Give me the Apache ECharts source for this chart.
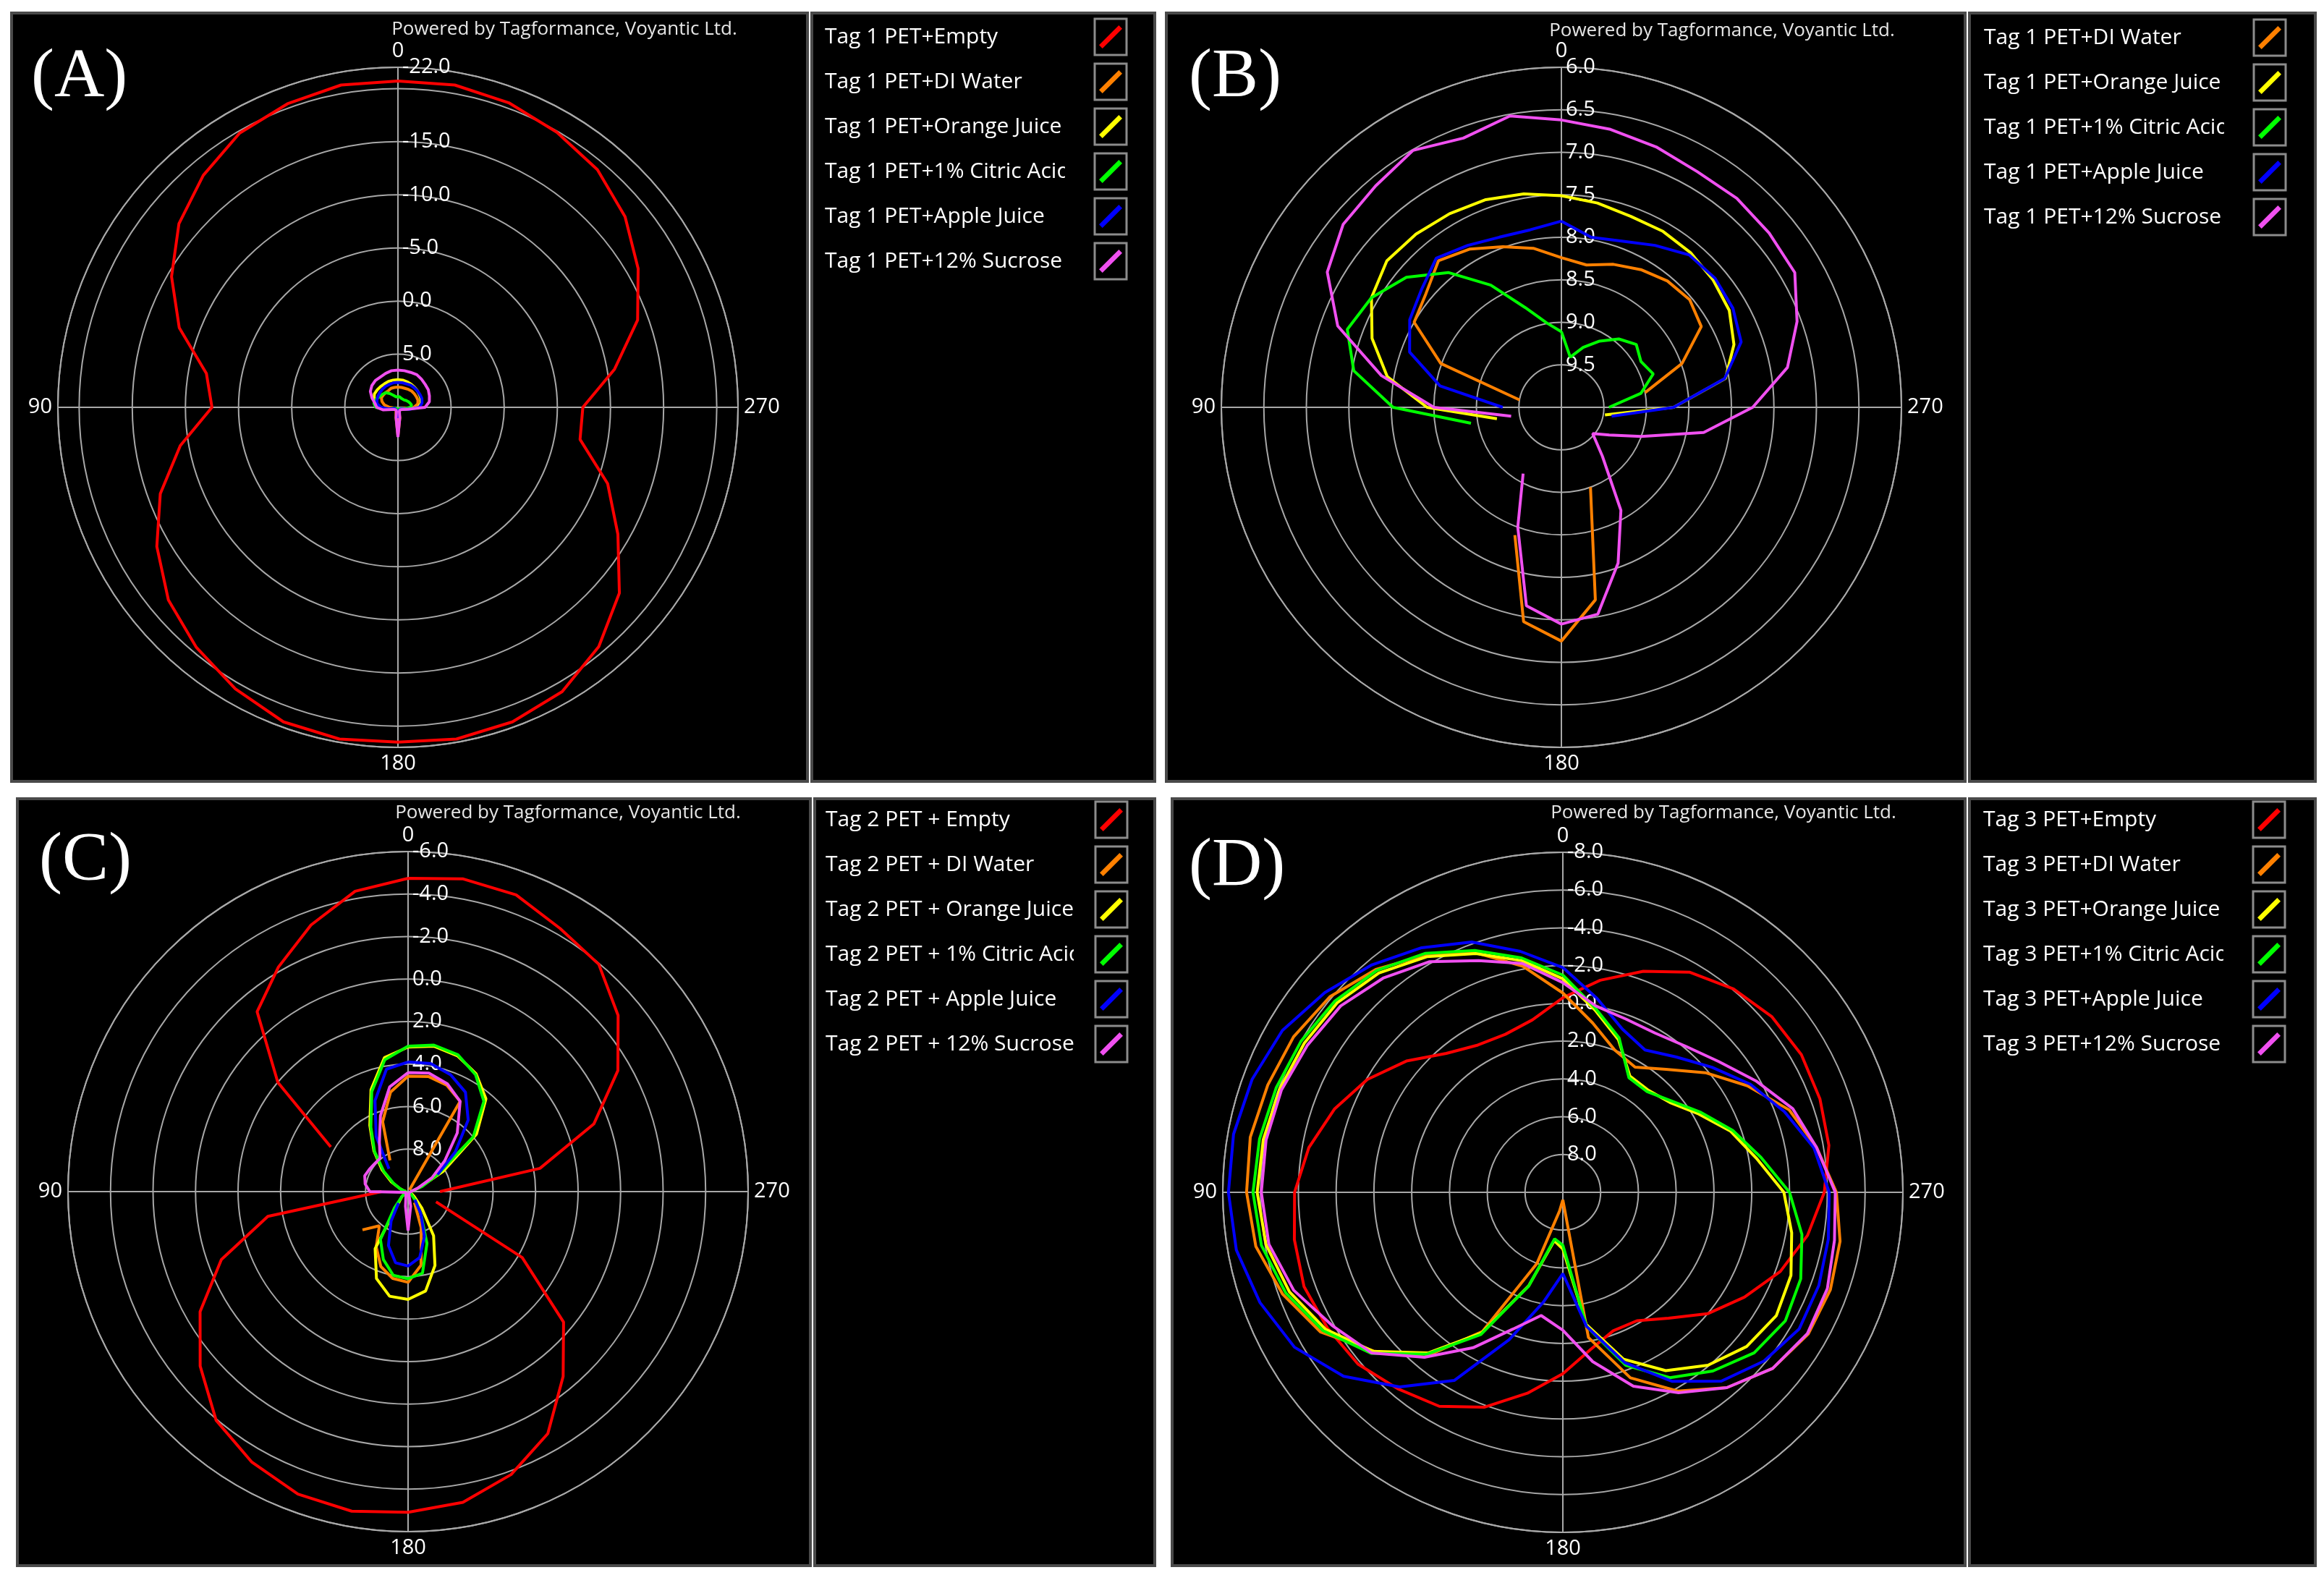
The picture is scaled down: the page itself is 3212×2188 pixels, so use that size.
<!DOCTYPE html>
<html>
<head>
<meta charset="utf-8">
<script src="https://cdn.jsdelivr.net/npm/echarts@6/dist/echarts.min.js"></script>
<style>
  html, body { margin: 0; padding: 0; background: #fff; }
  #main { width: 3212px; height: 2188px; }
</style>
</head>
<body>
<div id="main"></div>
<script>
// angle of each reading (deg), 0 at top, counter-clockwise
const ANGLES = [0, 10, 20, 30, 40, 50, 60, 70, 80, 90, 100, 110, 120, 130, 140, 150, 160, 170,
  180, 190, 200, 210, 220, 230, 240, 250, 260, 270, 280, 290, 300, 310, 320, 330, 340, 350];

const NAMES_A = ['Tag 1 PET+Empty', 'Tag 1 PET+DI Water', 'Tag 1 PET+Orange Juice', 'Tag 1 PET+1% Citric Acid', 'Tag 1 PET+Apple Juice', 'Tag 1 PET+12% Sucrose'];
const NAMES_B = ['Tag 1 PET+DI Water', 'Tag 1 PET+Orange Juice', 'Tag 1 PET+1% Citric Acid', 'Tag 1 PET+Apple Juice', 'Tag 1 PET+12% Sucrose'];
const NAMES_C = ['Tag 2 PET + Empty', 'Tag 2 PET + DI Water', 'Tag 2 PET + Orange Juice', 'Tag 2 PET + 1% Citric Acid', 'Tag 2 PET + Apple Juice', 'Tag 2 PET + 12% Sucrose'];
const NAMES_D = ['Tag 3 PET+Empty', 'Tag 3 PET+DI Water', 'Tag 3 PET+Orange Juice', 'Tag 3 PET+1% Citric Acid', 'Tag 3 PET+Apple Juice', 'Tag 3 PET+12% Sucrose'];

// (A) Tag 1
const A_EMPTY = [-20.7, -20.8, -20.4, -19.8, -18.5, -16.9, -14.6, -11.9, -8.3, -7.5, -10.8, -13.8, -16.2, -18.2, -19.5, -20.6, -21.5, -21.7,
  -21.5, -21.7, -21.5, -20.9, -19.4, -17.2, -13.9, -11.0, -7.4, -7.4, -10.7, -14.0, -16.1, -17.9, -19.2, -19.9, -20.5, -20.8];
const A_WATER = [8.1, 8.1, 8.1, 8.2, 8.2, 8.2, 8.2, 8.4, 8.7, 9.2, 9.6, 9.8, 9.8, 9.8, 9.8, 9.8, 9.8, 9.0,
  7.3, 9.0, 9.8, 9.8, 9.8, 9.8, 9.8, 9.8, 9.4, 8.5, 8.1, 8.0, 8.0, 8.0, 8.0, 8.05, 8.1, 8.1];
const A_ORANGE = [7.4, 7.4, 7.4, 7.45, 7.45, 7.45, 7.45, 7.6, 7.8, 8.3, 9.0, 9.7, 9.7, 9.7, 9.7, 9.7, 9.7, 9.6,
  9.4, 9.6, 9.7, 9.7, 9.7, 9.7, 9.7, 9.7, 9.0, 8.1, 7.8, 7.7, 7.65, 7.6, 7.55, 7.5, 7.45, 7.4];
const A_CITRIC = [9.0, 9.0, 8.8, 8.5, 8.2, 8.1, 8.0, 7.8, 7.7, 7.9, 8.8, 9.8, 9.8, 9.8, 9.8, 9.8, 9.8, 9.8,
  9.8, 9.8, 9.8, 9.8, 9.8, 9.8, 9.8, 9.8, 9.3, 8.8, 8.7, 8.8, 8.9, 9.0, 9.1, 9.1, 9.1, 9.0];
const A_APPLE = [7.65, 7.65, 7.7, 7.7, 7.75, 7.8, 7.85, 7.9, 8.0, 8.4, 9.1, 9.7, 9.7, 9.7, 9.7, 9.7, 9.7, 9.5,
  9.0, 9.5, 9.7, 9.7, 9.7, 9.7, 9.7, 9.7, 8.9, 8.0, 7.7, 7.6, 7.6, 7.6, 7.6, 7.6, 7.65, 7.65];
const A_SUCROSE = [6.5, 6.5, 6.6, 6.7, 6.7, 6.8, 7.0, 7.4, 7.8, 8.0, 8.6, 9.4, 9.6, 9.7, 9.7, 9.7, 9.6, 9.0,
  7.2, 9.0, 9.6, 9.7, 9.7, 9.7, 9.6, 9.5, 9.0, 7.45, 7.0, 6.85, 6.7, 6.65, 6.55, 6.45, 6.5, 6.5];

// (B) Tag 1, zoomed scale
const B_WATER = [8.24, 8.1, 7.99, 7.85, 7.75, 7.92, 8.0, 8.49, 9.5, null, null, null, null, null, null, null, 8.4, 7.44,
  7.25, 7.7, 9.0, null, null, null, null, null, null, null, 9.0, 8.49, 8.1, 8.03, 8.06, 8.13, 8.21, 8.3];
const B_ORANGE = [7.51, 7.45, 7.4, 7.37, 7.34, 7.32, 7.42, 7.63, 7.92, 8.42, 9.23, null, null, null, null, null, null, null,
  null, null, null, null, null, null, null, null, 9.48, 8.68, 8.04, 7.84, 7.72, 7.67, 7.63, 7.61, 7.61, 7.56];
const B_CITRIC = [9.11, 8.99, 8.75, 8.34, 7.93, 7.62, 7.42, 7.32, 7.52, 8.02, 8.92, null, null, null, null, null, null, null,
  null, null, null, null, null, null, null, null, null, 9.44, 9.05, 8.85, 8.92, 8.85, 8.95, 9.1, 9.25, 9.4];
const B_APPLE = [7.81, 7.88, 7.87, 7.8, 7.71, 7.85, 7.94, 8.1, 8.55, 9.31, null, null, null, null, null, null, null, null,
  null, null, null, null, null, null, null, null, 9.4, 8.68, 8.05, 7.75, 7.67, 7.64, 7.66, 7.8, 7.92, 7.97];
const B_SUCROSE = [6.62, 6.52, 6.63, 6.51, 6.6, 6.65, 6.82, 7.2, 7.85, 8.5, 9.4, null, null, null, null, 9.1, 8.5, 7.63,
  7.45, 7.53, 8.05, 8.6, 9.25, 9.52, 9.35, 9.0, 8.3, 7.75, 7.3, 7.05, 6.83, 6.81, 6.79, 6.8, 6.74, 6.68];

// (C) Tag 2
const C_EMPTY = [-4.74, -4.35, -3.35, -2.2, -1.05, 2.0, 5.8, null, null, 8.75, 3.3, 0.65, -1.3, -2.77, -4.05, -4.7, -5.15, -5.27,
  -5.09, -4.85, -4.17, -3.15, -1.35, 0.45, 3.8, 8.6, null, 8.5, 3.7, 0.7, -1.4, -2.9, -3.96, -4.3, -4.86, -4.94];
const C_WATER = [4.57, 5.25, 6.5, 8.3, null, null, null, null, null, null, null, null, null, 7.2, 7.9, 7.0, 6.25, 5.85,
  5.73, 6.48, 8.2, 9.4, null, null, null, null, null, null, null, null, null, null, 9.9, 5.1, 4.67, 4.5];
const C_ORANGE = [3.2, 3.6, 4.9, 6.4, 7.5, 8.4, 9.1, 9.6, 9.8, 9.9, 9.9, 9.9, 9.8, 9.6, 9.3, 6.9, 5.65, 5.0,
  4.93, 5.25, 6.3, 7.6, 9.0, 9.6, 9.8, 9.9, 9.9, 9.9, 9.8, 9.4, 8.1, 5.8, 4.3, 3.6, 3.2, 3.05];
const C_CITRIC = [3.16, 3.7, 5.0, 6.5, 7.55, 8.5, 9.2, 9.6, 9.8, 9.9, 9.9, 9.9, 9.8, 9.6, 9.0, 7.4, 6.6, 6.0,
  5.9, 6.1, 7.4, 8.8, 9.5, 9.8, 9.9, 9.9, 9.9, 9.9, 9.8, 9.3, 8.4, 6.0, 4.45, 3.65, 3.15, 3.0];
const C_APPLE = [3.9, 4.15, 5.45, 7.0, 8.6, null, null, null, null, null, null, null, null, null, 9.3, 8.4, 7.3, 6.6,
  6.5, 6.85, 7.75, 8.8, 9.5, null, null, null, null, null, null, null, 8.4, 7.1, 5.6, 4.6, 4.15, 3.88];
const C_SUCROSE = [4.4, 5.0, 6.2, 7.3, 7.95, 7.95, 7.9, 7.83, 7.95, 8.2, 9.8, 9.9, 9.9, 9.9, 9.9, 9.9, 9.9, 9.3,
  8.17, 9.3, 9.9, 9.9, 9.9, 9.9, 9.9, 9.9, 9.9, 9.9, 9.9, 9.5, 8.7, 7.75, 6.4, 5.1, 4.6, 4.34];

// (D) Tag 3
const D_EMPTY = [-0.3, 0.73, 1.1, 1.0, 0.4, -0.81, -1.95, -2.87, -3.65, -4.2, -4.43, -4.58, -4.38, -4.15, -3.58, -3.08, -2.1, -0.8,
  0.4, 1.55, 2.2, 2.15, 1.3, 0.0, -1.1, -2.25, -3.15, -3.84, -4.3, -4.48, -4.58, -4.45, -4.05, -3.45, -2.45, -1.4];
const D_WATER = [-0.55, -2.15, -3.5, -4.5, -5.4, -6.1, -6.46, -6.62, -6.8, -6.74, -6.5, -5.78, -4.8, -3.07, -1.38, 1.5, 6.0, 9.0,
  9.6, 2.2, -0.45, -2.15, -3.5, -4.5, -5.0, -5.07, -4.9, -4.48, -3.64, -2.75, -1.28, 0.15, 1.5, 2.35, 1.98, 0.9];
const D_ORANGE = [-1.3, -2.45, -3.45, -4.4, -5.15, -5.6, -5.8, -5.95, -6.1, -6.18, -5.95, -5.4, -4.5, -3.1, -1.1, 1.4, 4.75, 7.4,
  7.0, 2.9, 0.6, -0.9, -1.95, -2.7, -3.05, -2.85, -2.3, -1.7, -0.4, 0.55, 1.7, 2.6, 2.95, 2.9, 1.4, 0.2];
const D_CITRIC = [-1.5, -2.6, -3.62, -4.6, -5.33, -5.75, -6.0, -6.15, -6.3, -6.4, -6.2, -5.6, -4.65, -3.25, -1.18, 1.3, 4.72, 7.5,
  7.2, 2.8, 0.26, -1.33, -2.35, -3.22, -3.6, -3.4, -2.85, -2.0, -0.65, 0.43, 1.55, 2.48, 3.05, 3.0, 1.3, 0.1];
const D_APPLE = [-1.9, -2.95, -4.1, -4.95, -5.72, -6.45, -7.14, -7.5, -7.7, -7.7, -7.55, -7.06, -6.4, -5.15, -3.45, -1.5, 1.7, 4.1,
  5.7, 2.8, 0.4, -1.55, -3.05, -3.9, -4.45, -4.42, -4.27, -4.1, -3.5, -2.48, -1.45, -0.3, 0.65, 1.3, 0.8, -0.42];
const D_SUCROSE = [-1.1, -2.3, -3.05, -4.1, -4.8, -5.35, -5.6, -5.85, -5.95, -5.96, -5.8, -5.16, -4.1, -3.22, -1.4, 0.5, 2.3, 3.38,
  2.7, 0.9, -0.92, -2.25, -3.5, -4.5, -4.95, -4.9, -4.6, -4.42, -3.64, -2.95, -1.8, -0.77, -0.1, 0.26, 0.24, -0.02];

const RED = '#ff0000', ORANGE = '#ff8000', YELLOW = '#ffff00', GREEN = '#00ff00', BLUE = '#0000ff', PINK = '#f050f0';

// layout of the four screenshots
const PANELS = [
  { plot: [16, 18, 1100, 1062], side: [1122, 18, 474, 1062], center: [550, 563], tag: '(A)', tagAt: [43, 108],
    poweredAt: [780, 41], legendAt: [1140, 35], clipAt: 332, rMin: -22, rInterval: null, hide: [-20, 10],
    names: NAMES_A, values: [A_EMPTY, A_WATER, A_ORANGE, A_CITRIC, A_APPLE, A_SUCROSE], colors: [RED, ORANGE, YELLOW, GREEN, BLUE, PINK] },
  { plot: [1612, 18, 1104, 1062], side: [2722, 18, 478, 1062], center: [2158, 563], tag: '(B)', tagAt: [1643, 108],
    poweredAt: [2380, 43], legendAt: [2742, 36], clipAt: 332, rMin: 6, rInterval: 0.5, hide: [10],
    names: NAMES_B, values: [B_WATER, B_ORANGE, B_CITRIC, B_APPLE, B_SUCROSE], colors: [ORANGE, YELLOW, GREEN, BLUE, PINK] },
  { plot: [24, 1104, 1096, 1060], side: [1126, 1104, 470, 1060], center: [564, 1647], tag: '(C)', tagAt: [54, 1191],
    poweredAt: [785, 1124], legendAt: [1141, 1117], clipAt: 343, rMin: -6, rInterval: 2, hide: [10],
    names: NAMES_C, values: [C_EMPTY, C_WATER, C_ORANGE, C_CITRIC, C_APPLE, C_SUCROSE], colors: [RED, ORANGE, YELLOW, GREEN, BLUE, PINK] },
  { plot: [1620, 1104, 1096, 1060], side: [2722, 1104, 478, 1060], center: [2160, 1648], tag: '(D)', tagAt: [1643, 1199],
    poweredAt: [2382, 1124], legendAt: [2741, 1117], clipAt: 332, rMin: -8, rInterval: 2, hide: [10],
    names: NAMES_D, values: [D_EMPTY, D_WATER, D_ORANGE, D_CITRIC, D_APPLE, D_SUCROSE], colors: [RED, ORANGE, YELLOW, GREEN, BLUE, PINK] }
];

const RADIUS = 470;
const GRID = '#a8a8a8';
const FONT = 'Open Sans';
const TEXT_W = 345, TEXT_PAD = 28, ICON_W = 34, ICON_H = 32, ROW_GAP = 30;

function toPolar(vals) {
  const pts = ANGLES.map((a, k) => [vals[k] === null ? '-' : vals[k], a]);
  pts.push([vals[0] === null ? '-' : vals[0], 360]);
  return pts;
}

const chart = echarts.init(document.getElementById('main'), null, { renderer: 'canvas' });

const polar = [], angleAxis = [], radiusAxis = [], series = [], legend = [], graphic = [];

PANELS.forEach((p, i) => {
  // black screenshot frames
  [p.plot, p.side].forEach(r => {
    graphic.push({ type: 'rect', z: 0, shape: { x: r[0], y: r[1], width: r[2], height: r[3] },
      style: { fill: '#000', stroke: '#4a4a4a', lineWidth: 4 } });
  });
  graphic.push({ type: 'text', z: 30, x: p.tagAt[0], y: p.tagAt[1],
    style: { text: p.tag, fill: '#fff', font: '96px "Liberation Serif"', align: 'left', verticalAlign: 'middle', textAlign: 'left', textVerticalAlign: 'middle' } });
  graphic.push({ type: 'text', z: 30, x: p.poweredAt[0], y: p.poweredAt[1],
    style: { text: 'Powered by Tagformance, Voyantic Ltd.', fill: '#e6e6e6', font: '26px "' + FONT + '"', align: 'center', verticalAlign: 'middle', textAlign: 'center', textVerticalAlign: 'middle' } });
  // the original legend clips long names
  graphic.push({ type: 'rect', z: 25,
    shape: { x: p.legendAt[0] + p.clipAt, y: p.legendAt[1] - 10, width: TEXT_W + TEXT_PAD - p.clipAt - 2, height: p.names.length * (ICON_H + ROW_GAP) },
    style: { fill: '#000' } });
  // frames round the legend swatches
  p.names.forEach((n, k) => {
    graphic.push({ type: 'rect', z: 15,
      shape: { x: p.legendAt[0] + TEXT_W + TEXT_PAD, y: p.legendAt[1] + k * (ICON_H + ROW_GAP) - 9, width: 44, height: 50 },
      style: { fill: null, stroke: '#8c8c8c', lineWidth: 3 } });
  });

  polar.push({ center: p.center, radius: RADIUS });
  angleAxis.push({
    polarIndex: i, type: 'value', min: 0, max: 360, interval: 90, startAngle: 90, clockwise: false, z: 5,
    axisLine: { lineStyle: { color: GRID, width: 2 } },
    axisTick: { show: false },
    splitLine: { lineStyle: { color: GRID, width: 2 } },
    axisLabel: { color: '#fff', fontSize: 29, fontFamily: FONT, margin: 8 }
  });
  const ra = {
    polarIndex: i, type: 'value', min: p.rMin, max: 10, inverse: true, z: 5,
    axisLine: { show: false }, axisTick: { show: false },
    splitLine: { lineStyle: { color: GRID, width: 2 } },
    axisLabel: { margin: -6, align: 'left', color: '#fff', fontSize: 29, fontFamily: FONT,
      formatter: v => (p.hide.indexOf(v) >= 0 ? '' : v.toFixed(1)) }
  };
  if (p.rInterval) ra.interval = p.rInterval; else ra.splitNumber = 6;
  radiusAxis.push(ra);

  p.names.forEach((n, k) => {
    series.push({
      type: 'line', name: n, coordinateSystem: 'polar', polarIndex: i,
      data: toPolar(p.values[k]), symbol: 'none', showSymbol: false, clip: false, z: 10,
      lineStyle: { color: p.colors[k], width: 4 }, itemStyle: { color: p.colors[k] }
    });
  });

  legend.push({
    left: p.legendAt[0], top: p.legendAt[1], orient: 'vertical', align: 'right', padding: 0, z: 20,
    itemWidth: ICON_W, itemHeight: ICON_H, itemGap: ROW_GAP, selectedMode: false,
    icon: 'path://M0,29 L29,0 L34,5 L5,34 Z',
    data: p.names,
    formatter: '{t|{name}}',
    textStyle: { color: '#fff', fontSize: 30, fontFamily: FONT, width: TEXT_W,
      padding: [0, TEXT_PAD, 0, 0],
      rich: { t: { align: 'left', color: '#fff', fontSize: 30, fontFamily: FONT } } }
  });
});

chart.setOption({
  backgroundColor: '#ffffff',
  animation: false,
  polar, angleAxis, radiusAxis, series, legend, graphic
});
</script>
</body>
</html>
